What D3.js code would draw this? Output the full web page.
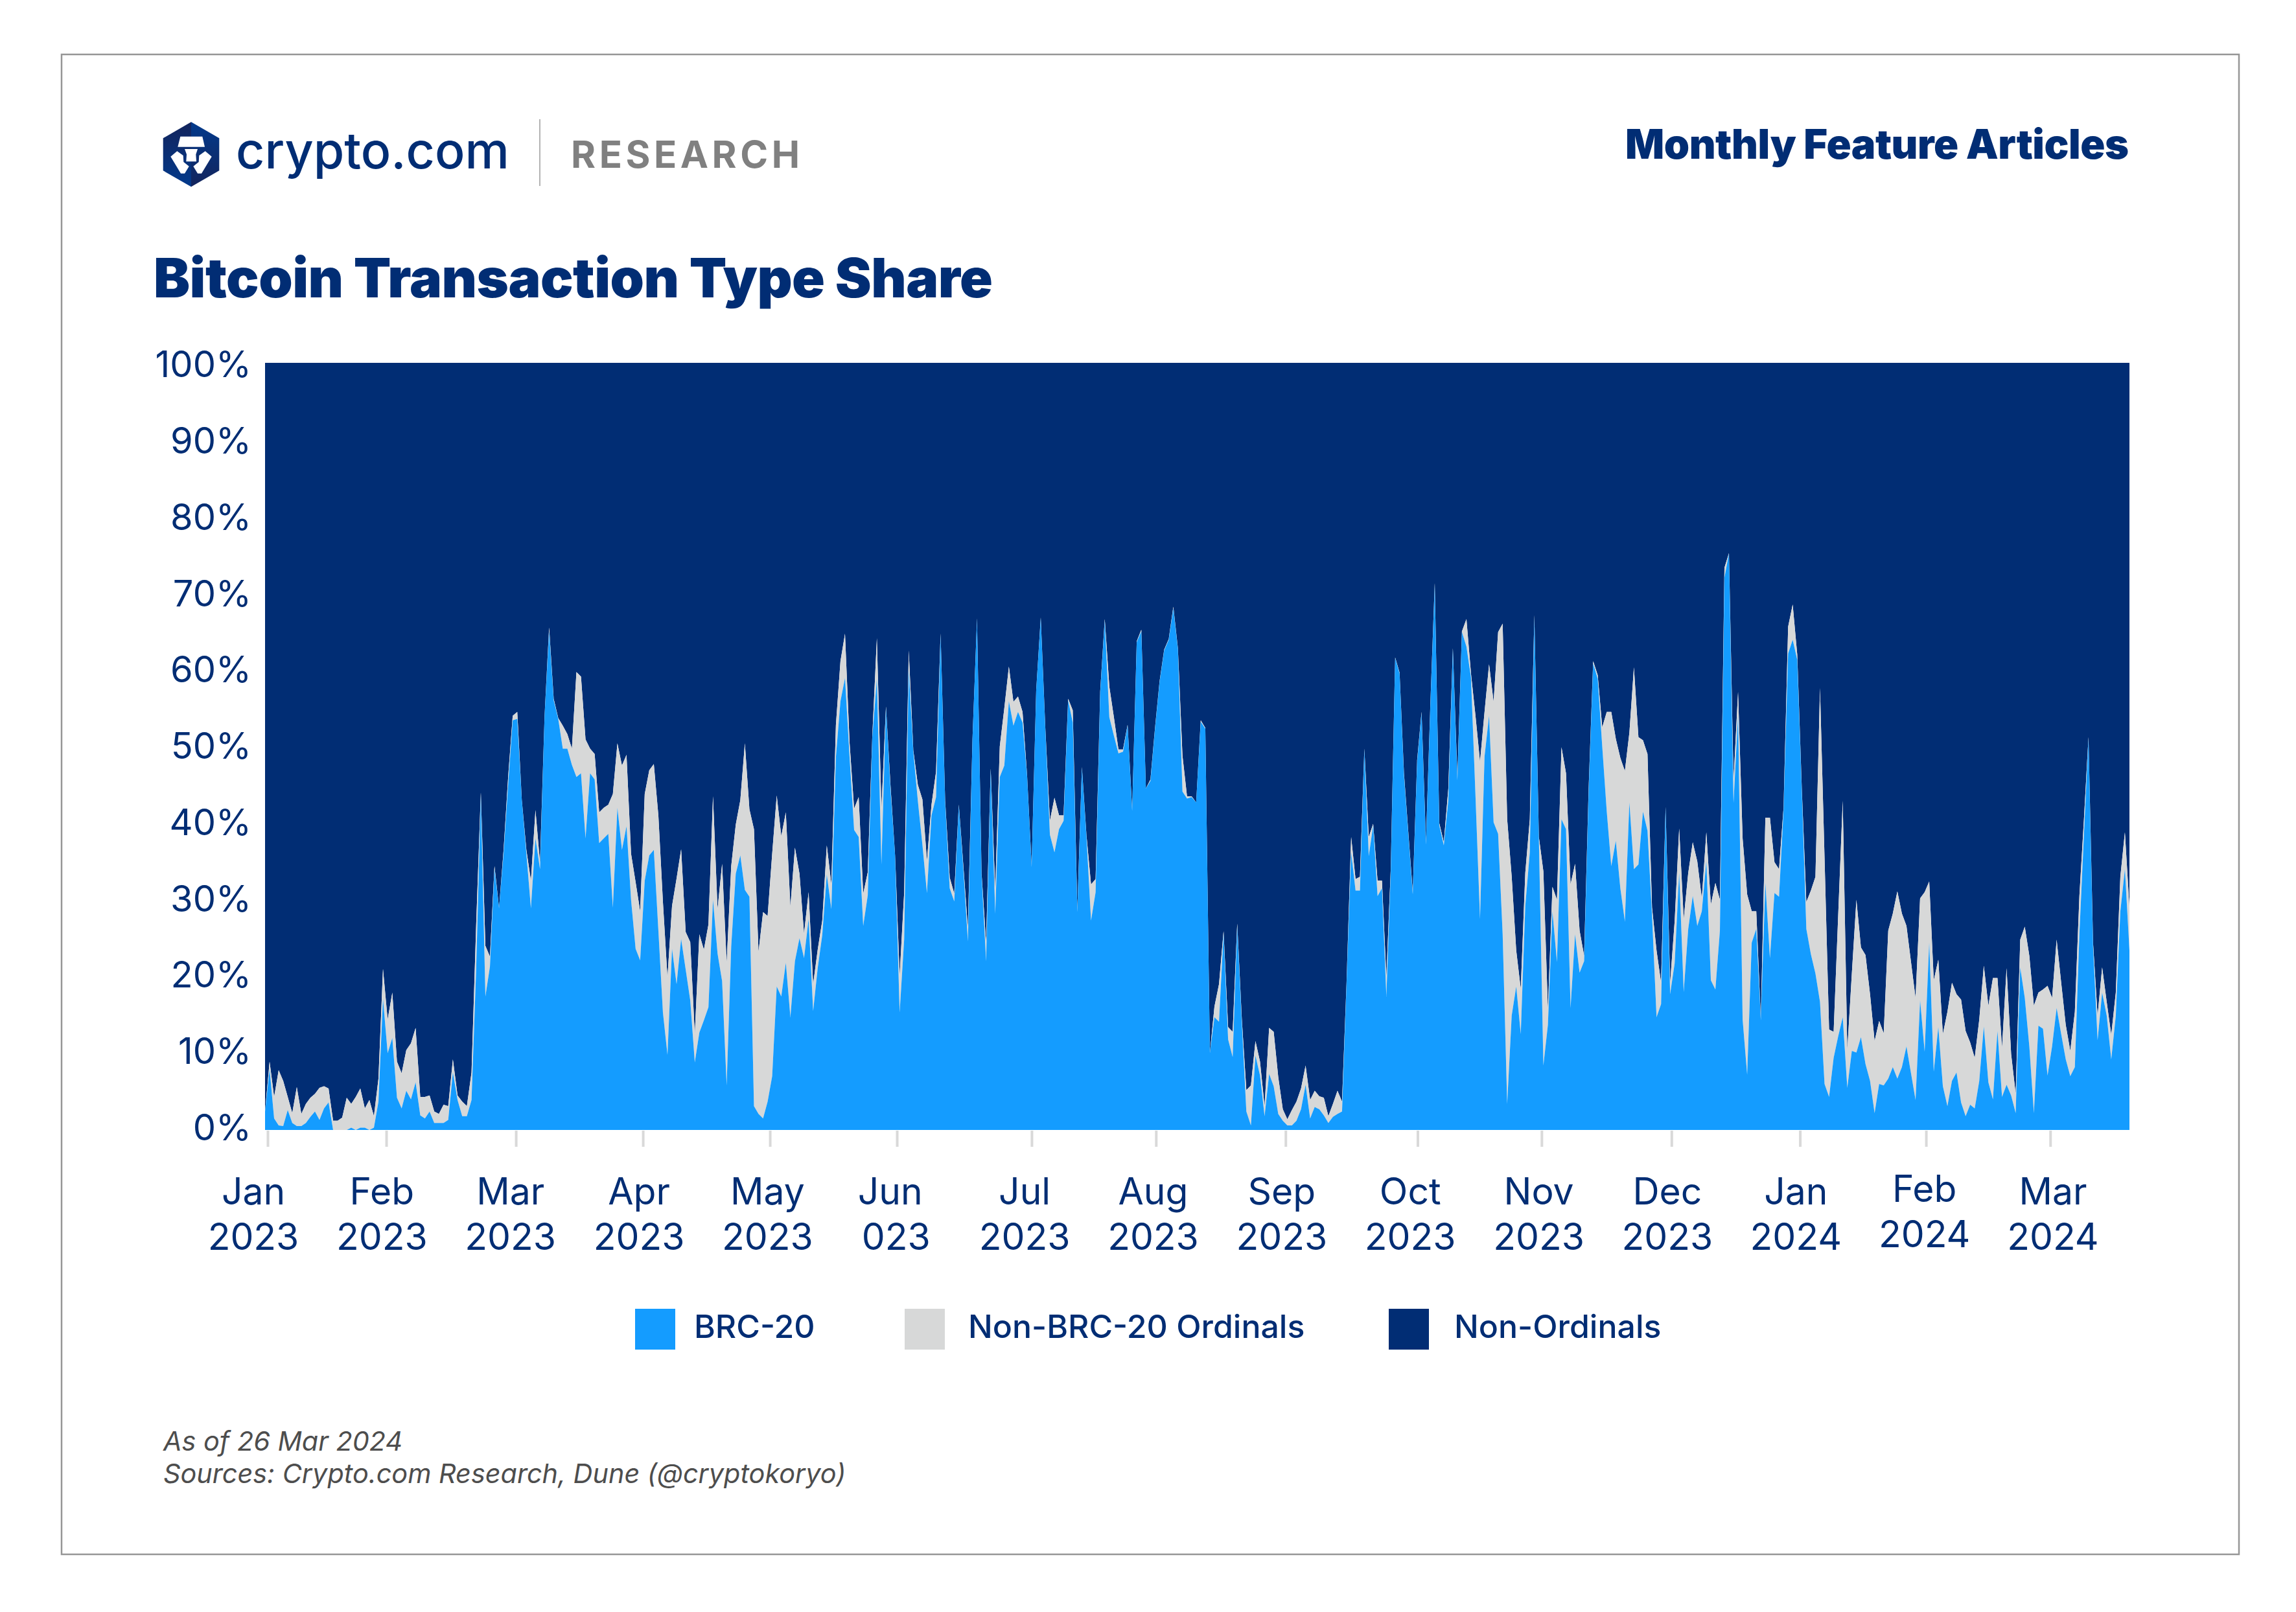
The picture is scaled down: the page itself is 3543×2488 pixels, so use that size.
<!DOCTYPE html>
<html><head><meta charset="utf-8">
<script src="https://cdnjs.cloudflare.com/ajax/libs/d3/7.8.5/d3.min.js"></script>
<style>html,body{margin:0;padding:0;background:#fff}svg{display:block}text{font-family:Inter,"Noto Sans",sans-serif}</style>
</head><body><div id="c"></div>
<script>
// Share of BRC-20 transactions per day, percent (upper edge of the light-blue band)
const brc20 = [2.4,7.9,1.5,0.6,0.5,2.6,0.9,0.5,0.5,0.9,1.7,2.4,1.3,2.8,3.6,0,0,0,0,0.3,0,0.3,0.3,0,0.3,3.7,17.1,10,12,4.2,2.8,5.1,4,6.2,1.9,1.5,2.4,0.9,0.9,0.9,1.3,7.5,3.9,1.8,1.8,3.9,21,43.6,17.4,21.3,34,28.9,36,45,53.4,53.6,43,36,28.9,38,34,54,65,56,53.6,49.7,49.7,47.6,46,46.5,38,46.5,45.7,37.4,38,38.6,29,42,36.5,39.6,30,23.6,22.1,32.5,35.8,36.5,26,15.3,9.8,23.6,19,24.9,20.9,16.9,8.8,12.7,14.3,16,30,23,19.4,5.8,23.9,33.4,35.8,31.3,30.4,3.1,2.1,1.5,3.7,7,18.7,17.4,21.8,14.7,22,25,22.4,27.5,15.5,21.1,25.4,33.3,28.8,48.6,55.9,58.9,48.6,39.1,38.2,26.6,30.6,51.2,58.8,34.6,55,44.3,35.8,15.3,24.9,60,49.3,42.9,37.2,30.9,41,43.4,64.5,42.7,31.5,29.8,42.3,33.9,24.6,50.9,66.6,33.2,22,46.9,28.2,46,47.5,55.9,52.7,54.5,53.1,46.1,34.3,57.3,66.7,52.3,38.5,36.2,39.2,40.3,56,53.1,28.4,47.2,38.2,27.3,31,56.9,66.4,53.8,51.4,49.1,49.3,52.7,41.6,63.6,65,44.5,45.5,52.3,58.4,62.5,63.9,68,62.7,44.1,43.2,43.4,42.7,53.2,52.3,10,14.7,14.1,25.6,11.8,9.5,26.5,14,2.4,0.6,9.7,7.1,1.8,7.3,5.7,2.1,1.2,0.6,0.6,1.2,2.7,5.9,1.5,3,2.7,1.9,0.9,1.7,2.1,2.4,19.2,36.2,31.2,31.2,49.6,35.7,39.7,30.5,31.5,17.4,33.5,61.5,59.5,46.2,38.5,30.7,48,54.3,37.2,55.3,71,39.7,37.1,43,62.6,45.6,64.9,63,59,43.5,27.5,48.7,54,40.1,38.6,25.5,3.4,14.9,18.7,12.5,29.2,36.2,66.8,38,8.4,13.7,28.5,21.9,40.5,39.2,15.9,25.5,20.5,22,44,60.8,58.8,50,41.5,34.4,37.7,31.5,27.2,42.7,34,34.6,41.5,39,28,14.7,16.4,42,17.7,21.7,33.5,18,26.2,30.5,26.6,28.5,35,19.5,18.3,26,72,75.1,42.6,54,14.4,7.2,24.4,26.2,14.3,32.2,22.4,30.9,30.4,41.7,62.1,63.9,61.3,44.2,26.2,22.9,20.4,16.7,6,4.3,9.4,12.2,14.7,5.5,10.3,10.1,12.1,8.6,6.4,2.2,6,5.8,6.7,8.2,6.7,8.2,10.9,7.4,3.9,16.9,10.2,24.4,7.6,13.4,5.7,3.1,6.4,7.5,3.6,1.8,3.3,2.8,6.4,13.5,6.2,4,12.9,4.3,5.9,4.5,2.2,21.2,17.2,10.9,2.2,13.6,13.2,7.1,10.9,15.9,12.5,9.2,7,8.2,25.5,38.5,51,23.9,11.7,17.9,14.9,9.2,14.9,28.5,34,23.4];
// BRC-20 plus Non-BRC-20 Ordinals, percent (upper edge of the grey band)
const allOrdinals = [2.4,8.9,4.3,7.8,6.4,4.3,2.2,5.6,2.1,3.4,4.2,4.7,5.5,5.7,5.4,1.2,1.2,1.6,4.2,3.4,4.3,5.4,2.8,3.9,1.8,6.7,21,14.4,17.9,8.9,7.4,10.4,11.3,13.3,4.3,4.3,4.5,2.4,2.1,3.3,3.1,9.2,4.5,3.7,3.1,7.5,26.8,44,24,22.6,34.4,28.9,36.5,46,54,54.5,43,36.5,32.5,41.7,34.8,54,65.5,56.2,53.7,52.7,51.6,49.7,59.7,59.1,50.9,49.7,49,41.4,42,42.4,43.8,50.4,47.5,48.9,36,32.3,28.5,43.8,46.9,47.7,41,29.7,19.9,29.2,32.8,36.6,25.8,24.5,12.5,25.5,23.5,26.8,43.5,28.8,34.7,21.8,34.4,39.8,43,50.4,41.8,39.2,23.2,28.4,27.9,36,43.6,38.3,41.4,29.1,36.8,33.4,25.6,31,19,23.5,27.3,37.1,32,52.8,61.1,64.7,50.5,41.9,43.4,30.8,33.6,51.4,64.1,41.9,55.2,44.8,35.8,20.1,31,62.5,49.5,45,43.1,35.1,42.4,46.7,64.7,42.9,32.9,30.8,42.4,34.4,26.3,50.9,66.7,33.4,24.4,47.1,31.3,50,55,60.4,55.8,56.5,54.5,46.2,34.4,57.3,66.8,52.4,40.3,43.3,41,41,56.2,54.7,28.7,47.3,38.4,32,32.7,57.1,66.6,57.8,53.8,49.6,49.6,52.8,41.7,63.7,65.2,44.5,45.7,52.4,58.5,62.6,64,68.2,62.8,48.8,43.5,43.5,42.7,53.4,52.4,10,16.1,19,25.9,13.4,12.8,26.9,14.5,5.2,5.8,11.6,8.9,3.1,13.3,12.8,6.9,2.7,1.4,2.6,3.7,5.4,8.4,3.9,5.1,4.4,4.2,1.8,3.4,5.1,3.7,19.4,38.2,32.7,33,49.7,38.2,39.9,32.5,32.5,19.9,34,61.6,59.6,46.5,38.7,31,48.2,54.5,37.5,55.5,71.3,40,37.5,44.5,62.8,46,65,66.6,59.5,54,48,54.5,60.7,55.8,64.9,66,40.5,33,23.4,18.4,33.5,40.5,67.1,38.2,33.7,15.7,31.7,30,49.9,46.5,32,34.7,26,22.7,44.5,61.1,59.3,52.5,54.5,54.5,51,48.5,46.8,51.8,60.3,51.2,50.8,49,29,23.4,19.2,42.1,19.2,27.2,39.3,27.5,33.5,37.5,35,30.2,38.8,29.4,32.2,30,73.3,75.2,45.5,57.1,38,30.7,28.5,28.5,14.4,40.7,40.7,34.9,34,42,65.6,68.5,62,44.5,29.7,31.2,33,57.6,35.5,13.1,12.8,28,42.9,10.4,20.4,30,23.8,22.8,17.7,11.6,14.2,12.6,26,28.2,31.1,28.2,26.6,21.9,17.2,30.2,31,32.4,19.5,22.2,12.5,15.4,19.2,17.7,17,12.9,11.4,9.4,14.4,21.4,16.2,19.8,19.8,10.7,21.1,9.9,4.7,24.8,26.5,22.7,16.2,17.9,18.3,18.8,17.2,24.8,19.2,13.7,10.3,15.4,30.5,40.5,51.2,24.4,14.9,21.2,16.7,12.4,17.9,33,38.8,29];
const monthNames = ["Jan","Feb","Mar","Apr","May","Jun","Jul","Aug","Sep","Oct","Nov","Dec","Jan","Feb","Mar"];
const yearNames = ["2023","2023","2023","2023","2023","023","2023","2023","2023","2023","2023","2023","2024","2024","2024"];
const monthTickIndex = [0.57,26.7,54.7,82.6,110.5,138.4,168,195.2,223.6,253.1,280.6,309.3,337.6,365.3,392.6];
const yTicks = [0,10,20,30,40,50,60,70,80,90,100];
const legendNames = ["BRC-20","Non-BRC-20 Ordinals","Non-Ordinals"];

const NAVY="#012d74", BLUE="#149cff", GREY="#d7d8d8";
const W=3543,H=2488;
const svg=d3.select("#c").append("svg").attr("width",W).attr("height",H).attr("viewBox",`0 0 ${W} ${H}`);
svg.append("rect").attr("width",W).attr("height",H).attr("fill","#fff");
svg.append("rect").attr("x",95).attr("y",84).attr("width",3360).attr("height",2315)
   .attr("fill","none").attr("stroke","#969696").attr("stroke-width",2.5);

const x=d3.scaleLinear().domain([0,26,47,170,207,238,257,322,410]).range([409,591,742,1606,1867,2085,2214,2668,3286]);
const y=d3.scaleLinear().domain([0,100]).range([1744,560]);
const idx=d3.range(brc20.length);
const area=(lo,hi)=>d3.area().x(i=>x(i)).y0(i=>y(lo(i))).y1(i=>y(hi(i))).curve(d3.curveLinear);
const plot=svg.append("g");
plot.append("path").attr("d",area(i=>allOrdinals[i],()=>100)(idx)).attr("fill",NAVY);
plot.append("path").attr("d",area(i=>brc20[i],i=>allOrdinals[i])(idx)).attr("fill",GREY);
plot.append("path").attr("d",area(()=>0,i=>brc20[i])(idx)).attr("fill",BLUE);

// Axes
const xAxis=svg.append("g").attr("transform","translate(0,1745)")
  .call(d3.axisBottom(x).tickValues(monthTickIndex).tickSize(25).tickFormat(""));
xAxis.select(".domain").remove();
xAxis.selectAll("line").attr("stroke","#d9d9d9").attr("stroke-width",4);

const yLabel=d3.scaleLinear().domain([0,100]).range([1742,564.5]);
const yAxis=svg.append("g").attr("transform","translate(388,0)")
  .call(d3.axisLeft(yLabel).tickValues(yTicks).tickSize(0).tickPadding(0).tickFormat(d=>d+"%"));
yAxis.select(".domain").remove();
yAxis.selectAll("text").attr("fill",NAVY).attr("font-size",56).attr("font-family","Inter").attr("dy","0.31em");

const labelX=d3.scalePoint().domain(d3.range(monthNames.length)).range([391,3168]);
const lab=svg.append("g").attr("fill",NAVY).attr("font-size",57).attr("text-anchor","middle");
monthNames.forEach((m,i)=>{
  const dy=(i===13)?-4:0;
  const dx=(i===5)?-9:0;
  lab.append("text").attr("x",labelX(i)+dx).attr("y",1859+dy).text(m);
  lab.append("text").attr("x",labelX(i)).attr("y",1929+dy).text(yearNames[i]);
});

// Legend
const legX=d3.scaleOrdinal().domain(legendNames).range([980,1396,2143]);
const legT=d3.scaleOrdinal().domain(legendNames).range([1071,1494,2244]);
const legC=d3.scaleOrdinal().domain(legendNames).range([BLUE,GREY,NAVY]);
legendNames.forEach(n=>{
  svg.append("rect").attr("x",legX(n)).attr("y",2020).attr("width",62).attr("height",63).attr("fill",legC(n));
  svg.append("text").attr("x",legT(n)).attr("y",2065).attr("font-size",50).attr("font-weight",500).attr("fill",NAVY).text(n);
});

// Header
svg.append("text").attr("x",237).attr("y",459).attr("font-size",84).attr("font-weight",900).attr("textLength",1295).attr("lengthAdjust","spacing").attr("fill",NAVY).text("Bitcoin Transaction Type Share");
svg.append("text").attr("x",2508).attr("y",245).attr("font-size",63).attr("font-weight",900).attr("textLength",777).attr("lengthAdjust","spacing").attr("fill",NAVY).text("Monthly Feature Articles");
svg.append("text").attr("x",364).attr("y",260).attr("font-size",77).attr("font-weight",500).attr("fill",NAVY).text("crypto.com");
svg.append("text").attr("x",881).attr("y",259).attr("font-size",58).attr("font-weight",700).attr("textLength",353).attr("lengthAdjust","spacing").attr("fill","#808080").text("RESEARCH");
svg.append("line").attr("x1",833).attr("x2",833).attr("y1",184).attr("y2",287).attr("stroke","#b3b3b3").attr("stroke-width",2);

// Logo
const defs=svg.append("defs");
const g1=defs.append("linearGradient").attr("id","lgL").attr("x1",0).attr("x2",0).attr("y1",0).attr("y2",1);
g1.append("stop").attr("offset",0).attr("stop-color","#13245c");
g1.append("stop").attr("offset",1).attr("stop-color","#023a8c");
const g2=defs.append("linearGradient").attr("id","lgR").attr("x1",0).attr("x2",0).attr("y1",0).attr("y2",1);
g2.append("stop").attr("offset",0).attr("stop-color","#023a8c");
g2.append("stop").attr("offset",1).attr("stop-color","#13245c");
const logo=svg.append("g");
logo.append("path").attr("d","M295,188.3L251.7,213.3L251.7,263.3L295,288.3Z").attr("fill","url(#lgL)");
logo.append("path").attr("d","M295,188.3L338.3,213.3L338.3,263.3L295,288.3Z").attr("fill","url(#lgR)");
logo.append("path").attr("d","M278.3,210.7L312.3,210.7L316,226.7L274.3,226.7Z").attr("fill","#fff");
logo.append("path").attr("d","M285,230L305,230L302.3,238.3L303,249.3L287.3,249.3L288,238.3Z").attr("fill","#fff");
logo.append("path").attr("d","M273.3,233.3L282.7,240L283.3,250L291.7,256.7L285,267.7L279,267.7L263.3,241.7Z").attr("fill","#fff");
logo.append("path").attr("d","M316.7,233.3L307.3,240L306.7,250L298.3,256.7L305,267.7L311,267.7L326.7,241.7Z").attr("fill","#fff");

// Footer
const foot=svg.append("g").attr("fill","#4d4d4d").attr("font-size",41.4).attr("font-style","italic");
foot.append("text").attr("x",252).attr("y",2239).text("As of 26 Mar 2024");
foot.append("text").attr("x",252).attr("y",2289).text("Sources: Crypto.com Research, Dune (@cryptokoryo)");
</script></body></html>
